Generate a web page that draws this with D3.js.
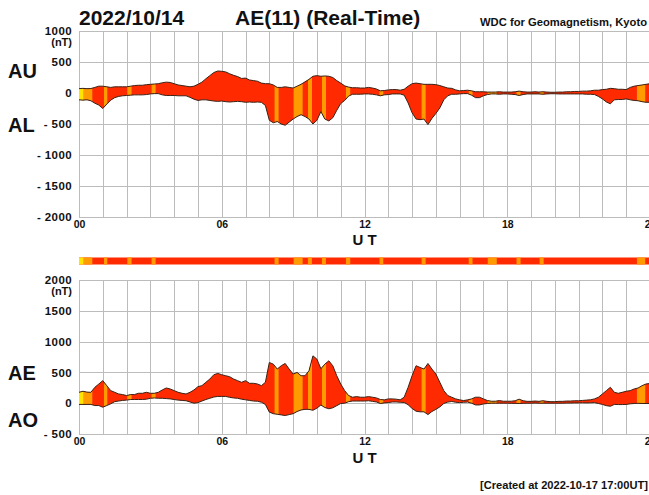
<!DOCTYPE html>
<html>
<head>
<meta charset="utf-8">
<script src="https://cdn.jsdelivr.net/npm/d3@7"></script>
<style>
  html, body { margin: 0; padding: 0; background: #fff; }
  svg { display: block; }
  text { font-family: "Liberation Sans", Arial, Helvetica, sans-serif; fill: #111; }
</style>
</head>
<body>
<svg id="chart" width="649" height="495"></svg>
<script>
// ---- labels ----
const dateLabel = "2022/10/14";
const titleLabel = "AE(11) (Real-Time)";
const sourceLabel = "WDC for Geomagnetism, Kyoto";
const createdLabel = "[Created at 2022-10-17 17:00UT]";
const upperNames = ["AU", "AL"];
const lowerNames = ["AE", "AO"];
const axisTitle = "U T";

// ---- data: 10-minute samples from 00:00 to 24:00 UT (nT) ----
const stepMinutes = 10;
const auValues = [
  70, 75, 70, 72, 90, 110, 110, 100, 90, 100,
  100, 100, 100, 110, 120, 125, 125, 135, 140, 145,
  150, 165, 175, 170, 150, 130, 120, 110, 100, 110,
  140, 175, 230, 280, 330, 355, 350, 340, 310, 285,
  265, 235, 240, 210, 200, 190, 160, 150, 150, 130,
  90, 90, 100, 90, 80, 110, 140, 180, 220, 270,
  280, 270, 275, 270, 250, 200, 160, 115, 95, 85,
  85, 80, 80, 90, 80, 65, 35, 40, 50, 55,
  55, 45, 60, 110, 150, 160, 150, 140, 140, 140,
  135, 120, 100, 80, 75, 50, 35, 40, 45, 35,
  20, 20, 20, 15, 15, 15, 20, 15, 15, 15,
  20, 30, 20, 15, 15, 20, 15, 20, 15, 12,
  12, 15, 15, 20, 20, 25, 25, 30, 30, 35,
  45, 45, 55, 60, 75, 70, 60, 60, 55, 90,
  110, 120, 130, 140, 150
];
const alValues = [
  -110, -115, -110, -125, -165, -195, -250, -180, -115, -75,
  -55, -45, -40, -35, -30, -30, -30, -25, -15, -10,
  -10, -30, -40, -40, -40, -45, -45, -45, -70, -100,
  -120, -110, -110, -120, -130, -135, -130, -140, -145, -140,
  -135, -140, -150, -145, -150, -145, -150, -200, -440, -480,
  -460, -500, -520, -470, -420, -380, -350, -380, -420, -500,
  -440, -300, -420, -450, -400, -280, -170, -120, -50, -20,
  -20, -20, -15, -15, -20, -30, -45, -30, -25, -15,
  -15, -15, -35, -160, -320, -420, -430, -420, -510, -410,
  -330, -240, -110, -45, -20, -20, -15, -10, -10, -35,
  -75, -75, -45, -25, -15, -15, -20, -15, -15, -20,
  -25, -40, -25, -15, -15, -15, -15, -20, -15, -12,
  -12, -15, -15, -15, -15, -15, -15, -15, -20, -20,
  -25, -55, -95, -145, -175, -110, -105, -105, -95, -110,
  -120, -125, -140, -150, -150
];
const aeValues = [
  177, 194, 180, 177, 258, 312, 366, 285, 204, 177,
  150, 140, 124, 140, 140, 161, 161, 177, 161, 161,
  177, 215, 247, 231, 204, 177, 161, 150, 177, 215,
  269, 285, 339, 392, 462, 484, 462, 446, 430, 392,
  366, 339, 366, 323, 323, 312, 285, 339, 661, 634,
  554, 608, 645, 554, 473, 500, 446, 446, 527, 769,
  715, 560, 634, 688, 608, 446, 312, 204, 124, 97,
  107, 97, 97, 107, 97, 86, 60, 54, 70, 70,
  65, 54, 97, 258, 446, 608, 581, 554, 645, 554,
  473, 339, 204, 124, 97, 70, 54, 43, 54, 70,
  97, 97, 70, 43, 32, 32, 43, 32, 32, 32,
  40, 65, 40, 30, 30, 35, 30, 40, 30, 25,
  25, 30, 30, 35, 35, 40, 40, 45, 50, 55,
  70, 97, 150, 204, 258, 177, 161, 177, 194, 204,
  231, 247, 285, 312, 320
];
const aoValues = [
  -20, -20, -20, -20, -38, -38, -65, -38, -10, 25,
  35, 45, 50, 60, 60, 60, 60, 65, 80, 85,
  80, 80, 75, 70, 60, 50, 45, 40, 20, 0,
  10, 35, 60, 80, 100, 110, 110, 110, 95, 85,
  80, 65, 55, 45, 35, 32, 16, -20, -145, -170,
  -180, -190, -200, -185, -170, -135, -110, -100, -100, -115,
  -80, -30, -70, -90, -75, -40, -5, 0, 25, 35,
  35, 35, 35, 40, 30, 20, -5, 5, 10, 20,
  20, 15, 12, -25, -85, -130, -140, -140, -185, -135,
  -100, -60, -5, 18, 28, 15, 10, 15, 18, 0,
  -28, -28, -12, -5, 0, 0, 0, 0, 0, -2,
  -3, -5, -2, 0, 0, 2, 0, 0, 0, 0,
  0, 0, 0, 2, 2, 5, 5, 7, 5, 7,
  10, -5, -20, -40, -50, -20, -22, -22, -20, -10,
  -5, -2, -5, -5, -5
];

// ---- station-coverage intervals (UT hours); everything else is full coverage ----
const coverageStart = [0.00, 0.20, 1.05, 2.03, 3.05, 8.22, 9.02, 9.62, 10.21, 11.22, 12.63, 14.40, 16.38, 17.18, 18.39, 19.36, 23.45];
const coverageEnd   = [0.20, 0.56, 1.19, 2.21, 3.22, 8.39, 9.40, 9.79, 10.38, 11.40, 12.79, 14.57, 16.54, 17.56, 18.56, 19.53, 23.80];
const coverageLevel = ["low", "mid", "mid", "mid", "mid", "mid", "mid", "mid", "mid", "mid", "mid", "mid", "mid", "mid", "mid", "mid", "mid"];
const coverageColors = { full: "#ff2a00", mid: "#ff9a00", low: "#ffe400" };

// ---- ticks ----
const hourGrid = d3.range(0, 25);
const hourTicks = [0, 6, 12, 18, 24];
const hourTickLabels = ["00", "06", "12", "18", "24"];
const upperTicks = [1000, 500, 0, -500, -1000, -1500, -2000];
const upperTickLabels = ["1000", "500", "0", "- 500", "- 1000", "- 1500", "- 2000"];
const lowerTicks = [2000, 1500, 1000, 500, 0, -500];
const lowerTickLabels = ["2000", "1500", "1000", "500", "0", "- 500"];

// ---- layout ----
const svg = d3.select("#chart");
const plotLeft = 79, plotRight = 650;
const x = d3.scaleLinear().domain([0, 24]).range([plotLeft, plotRight]);
const yUpper = d3.scaleLinear().domain([-2000, 1000]).range([217, 31]);
const yLower = d3.scaleLinear().domain([-500, 2000]).range([434, 280]);
const hourOf = i => i * stepMinutes / 60;

const gridColor = "#bcbcbc";
const outlineColor = "#3a2216";

// clip paths for each coverage interval
const defs = svg.append("defs");
coverageStart.forEach((s, k) => {
  defs.append("clipPath").attr("id", "cov" + k)
    .append("rect")
    .attr("x", x(s)).attr("y", 0)
    .attr("width", x(coverageEnd[k]) - x(s)).attr("height", 495);
});

function drawPanel(yScale, ticks, tickLabels, upper, lower, labelY, utY) {
  const g = svg.append("g");
  const [yBottom, yTop] = yScale.range();

  // horizontal grid
  g.append("g")
    .attr("transform", `translate(${plotLeft},0)`)
    .call(d3.axisLeft(yScale).tickValues(ticks).tickSize(-(plotRight - plotLeft)).tickFormat(""))
    .call(a => a.select(".domain").remove())
    .call(a => a.selectAll("line").attr("stroke", gridColor).attr("stroke-width", 1).attr("shape-rendering", "crispEdges"));

  // vertical hourly grid
  g.append("g")
    .attr("transform", `translate(0,${yBottom})`)
    .call(d3.axisBottom(x).tickValues(hourGrid).tickSize(-(yBottom - yTop)).tickFormat(""))
    .call(a => a.select(".domain").remove())
    .call(a => a.selectAll("line").attr("stroke", gridColor).attr("stroke-width", 1).attr("shape-rendering", "crispEdges"));

  // filled envelope
  const area = d3.area()
    .x((d, i) => x(hourOf(i)))
    .y0((d, i) => yScale(lower[i]))
    .y1((d, i) => yScale(upper[i]));
  g.append("path").datum(upper).attr("d", area).attr("fill", coverageColors.full);
  coverageStart.forEach((s, k) => {
    g.append("path").datum(upper).attr("d", area)
      .attr("fill", coverageColors[coverageLevel[k]])
      .attr("clip-path", `url(#cov${k})`);
  });

  // envelope outlines
  const lineOf = vals => d3.line().x((d, i) => x(hourOf(i))).y(d => yScale(d))(vals);
  [upper, lower].forEach(vals => {
    g.append("path").attr("d", lineOf(vals))
      .attr("fill", "none").attr("stroke", outlineColor).attr("stroke-width", 1);
  });

  // y-axis labels
  g.append("g")
    .attr("transform", `translate(${plotLeft - 1},0)`)
    .call(d3.axisLeft(yScale).tickValues(ticks).tickSize(0).tickPadding(6)
      .tickFormat((d, i) => tickLabels[i]))
    .call(a => a.select(".domain").remove())
    .call(a => a.selectAll("text")
      .attr("font-family", '"Liberation Sans", Arial, sans-serif')
      .attr("font-size", 11.5).attr("font-weight", "bold")
      .attr("letter-spacing", "0.4px").attr("fill", "#1a1a1a"));
  g.append("text")
    .attr("x", plotLeft - 7).attr("y", yScale(ticks[0]) + 15)
    .attr("text-anchor", "end").attr("font-size", 11).attr("font-weight", "bold")
    .attr("fill", "#1a1a1a")
    .text("(nT)");

  // x-axis labels
  g.append("g")
    .attr("transform", `translate(0,${yBottom})`)
    .call(d3.axisBottom(x).tickValues(hourTicks).tickSize(0).tickPadding(4)
      .tickFormat((d, i) => hourTickLabels[i]))
    .call(a => a.select(".domain").remove())
    .call(a => a.selectAll("text")
      .attr("font-family", '"Liberation Sans", Arial, sans-serif')
      .attr("font-size", 10.5).attr("font-weight", "bold").attr("fill", "#1a1a1a"));
  g.append("text")
    .attr("x", x(12)).attr("y", utY)
    .attr("text-anchor", "middle").attr("font-size", 15).attr("font-weight", "bold")
    .text(axisTitle);

  return g;
}

// upper panel: AU / AL
drawPanel(yUpper, upperTicks, upperTickLabels, auValues, alValues, null, 245);
// lower panel: AE / AO
drawPanel(yLower, lowerTicks, lowerTickLabels, aeValues, aoValues, null, 463);

// station coverage bar
const bar = svg.append("g");
bar.append("rect").attr("x", x(0)).attr("y", 257.5)
  .attr("width", x(24) - x(0)).attr("height", 7).attr("fill", coverageColors.full);
coverageStart.forEach((s, k) => {
  bar.append("rect").attr("x", x(s)).attr("y", 257.5)
    .attr("width", x(coverageEnd[k]) - x(s)).attr("height", 7)
    .attr("fill", coverageColors[coverageLevel[k]]);
});

// series names
const nameStyle = t => t.attr("font-size", 20).attr("font-weight", "bold").attr("fill", "#111");
svg.append("text").attr("x", 8).attr("y", 78).text(upperNames[0]).call(nameStyle);
svg.append("text").attr("x", 8).attr("y", 132).text(upperNames[1]).call(nameStyle);
svg.append("text").attr("x", 8).attr("y", 380).text(lowerNames[0]).call(nameStyle);
svg.append("text").attr("x", 8).attr("y", 427).text(lowerNames[1]).call(nameStyle);

// titles
svg.append("text").attr("x", 79).attr("y", 25)
  .attr("font-size", 21).attr("font-weight", "bold").text(dateLabel);
svg.append("text").attr("x", 235).attr("y", 25)
  .attr("font-size", 21).attr("font-weight", "bold").text(titleLabel);
svg.append("text").attr("x", 480).attr("y", 25.5)
  .attr("font-size", 10.5).attr("font-weight", "bold")
  .attr("textLength", 167).attr("lengthAdjust", "spacingAndGlyphs")
  .text(sourceLabel);
svg.append("text").attr("x", 480).attr("y", 489)
  .attr("font-size", 10.5).attr("font-weight", "bold")
  .attr("textLength", 168).attr("lengthAdjust", "spacingAndGlyphs")
  .text(createdLabel);
</script>
</body>
</html>
